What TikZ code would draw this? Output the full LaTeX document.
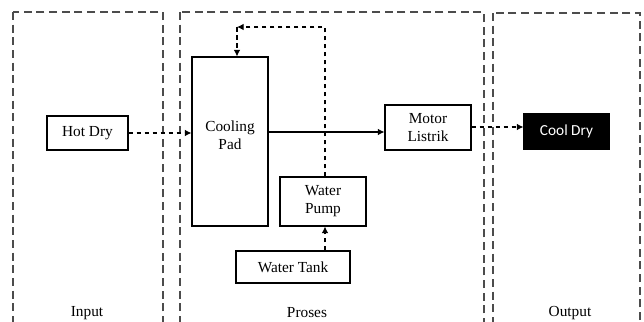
\documentclass[tikz,border=0pt]{standalone}
\usepackage{fontspec}
\setmainfont{Liberation Serif}
\newfontfamily\calibrifont{Carlito}
\usetikzlibrary{arrows.meta,positioning,calc}

\begin{document}
\begin{tikzpicture}[x=0.75pt,y=-0.75pt,>=Latex,font=\fontsize{11.5}{13.5}\selectfont,
 box/.style={draw,line width=0.8pt,inner sep=0pt,align=center},
 frame/.style={draw=black!70,line width=0.9pt,dash pattern=on 6pt off 3.5pt},
 flow/.style={->,line width=0.8pt,dash pattern=on 3.5pt off 2.5pt,>={Latex[length=5pt,width=5pt]}},
 solidflow/.style={->,line width=0.8pt,>={Latex[length=5pt,width=5pt]}}]
\clip (0,0) rectangle (644,322);
\fill[white] (0,0) rectangle (644,322);
% frames
\draw[frame] (13,12) rectangle (163,340);
\draw[frame] (180,12) rectangle (484,340);
\draw[frame] (493,13) rectangle (640,340);
\node (inlabel) at (87,313) {Input};
\node (proseslabel) at (307,313) {Proses};
\node (outlabel) at (570,313) {Output};
% blocks
\node[box,minimum width=60.75pt,minimum height=25.5pt] (hot) at (87.5,133) {Hot Dry};
\node[box,minimum width=57pt,minimum height=126.75pt] (pad) at (230,141.5) {};
\node[align=center] (padtext) at (230,135) {Cooling\\Pad};
\node[box,minimum width=64.5pt,minimum height=36.75pt] (pump) at (323,201.5) {Water\\Pump};
\node[box,minimum width=85.5pt,minimum height=24pt] (tank) at (293,267) {Water Tank};
\node[box,minimum width=64.5pt,minimum height=33.75pt] (motor) at (428,127.5) {Motor\\Listrik};
\node[box,fill=black,text=white,font=\fontsize{11.5}{13.5}\selectfont\calibrifont,minimum width=63.75pt,minimum height=26.25pt] (cool) at (566.5,131.5) {Cool Dry};
\coordinate (top) at (237,27);
% connectors
\draw[flow] (hot.east)--(hot.east -| pad.west);
\draw[solidflow] (pad.east |- 0,132)--(motor.west |- 0,132);
\draw[flow] (motor.east |- 0,127)--(cool.west |- 0,127);
\draw[flow] ($(tank.north -| pump.south)+(2,0)$)--($(pump.south)+(2,0)$);
\draw[flow] ($(pump.north)+(2,0)$) |- (top);
\draw[flow] (top)--(top |- pad.north);
\end{tikzpicture}
\end{document}
